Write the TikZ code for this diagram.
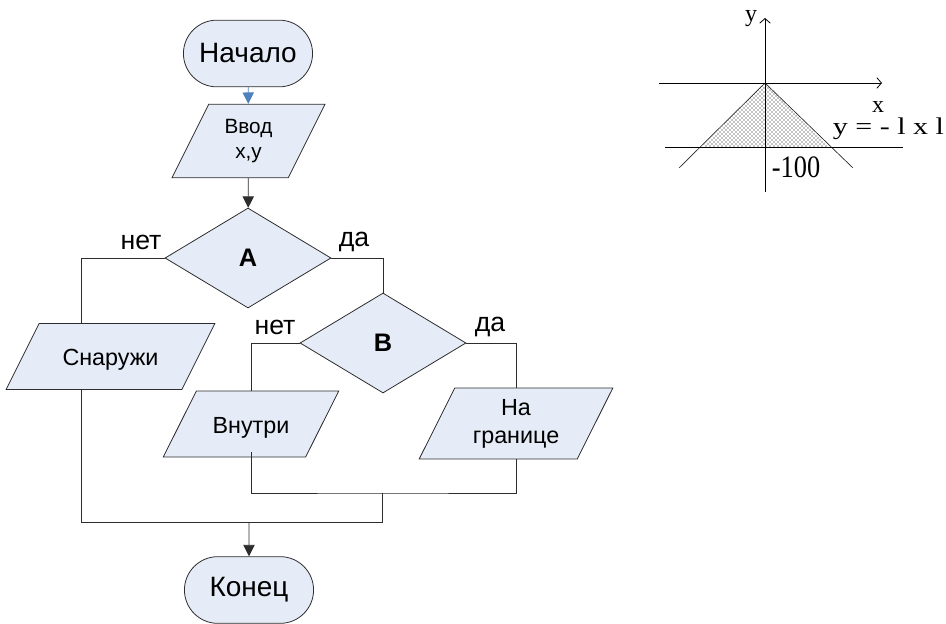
\documentclass[tikz,border=0pt]{standalone}
\usepackage{fontspec}
\setmainfont{Liberation Sans}
\newfontfamily\graphfont{Liberation Serif}
\usetikzlibrary{shapes.geometric,shapes.misc,arrows.meta,patterns}
\definecolor{boxfill}{RGB}{229,236,247}
\definecolor{arrowblue}{RGB}{79,129,189}
\definecolor{edgegray}{RGB}{45,45,45}
\tikzset{
term/.style={rounded rectangle, draw=edgegray, fill=boxfill, line width=0.6pt, minimum width=103.5pt, minimum height=50pt, font=\fontsize{21}{24}\selectfont},
io/.style={trapezium, trapezium left angle=63.4, trapezium right angle=116.6, draw=edgegray, fill=boxfill, line width=0.6pt, minimum height=49.5pt, align=center, inner sep=1pt},
oneline/.style={text height=30.5pt, text depth=17pt},
cond/.style={diamond, draw=edgegray, fill=boxfill, line width=0.6pt, minimum width=124.5pt, minimum height=75pt, inner sep=0pt, font=\fontsize{19}{21}\selectfont\bfseries},
answer/.style={font=\fontsize{20}{22}\selectfont},
line/.style={draw=edgegray, line width=0.6pt},
arr/.style={line, -{Triangle[length=8.5pt,width=8.5pt]}},
axis/.style={line width=0.6pt, -{Straight Barb[length=3.5pt,width=8pt]}},
graphtext/.style={font=\graphfont\fontsize{18}{20}\selectfont, inner sep=0pt},
}
\begin{document}
\begin{tikzpicture}[x=0.75pt,y=0.75pt,yscale=-1,xscale=1]
\useasboundingbox (0,0) rectangle (946,624);
%Terminals
\draw (248,53.5) node [term] (start) {Начало};
\draw (249,590) node [term] (finish) {Конец};
%Input
\draw (248.5,141) node [io, minimum width=115pt, font=\fontsize{15.5}{19}\selectfont] (input) {Ввод\\x,y};
%Conditions
\draw (248,258) node [cond] (condA) {A};
\draw (383,343) node [cond] (condB) {B};
%Outputs
\draw (110.5,356.5) node [io, oneline, text width=105pt, font=\fontsize{17.5}{20}\selectfont] (outside) {Снаружи};
\draw (251,424) node [io, oneline, text width=80pt, font=\fontsize{17.5}{20}\selectfont] (inside) {Внутри};
\draw (516,423.5) node [io, minimum width=145.5pt, font=\fontsize{17.5}{21}\selectfont] (border) {На\\границе};
%Answers
\draw (141,242) node [answer] (noA) {нет};
\draw (354,242) node [answer] (yesA) {да};
\draw (275,327) node [answer] (noB) {нет};
\draw (490,327) node [answer] (yesB) {да};
%Merge points
\coordinate (mergeB) at (382,493);
\coordinate (mergeA) at (382,522);
%Connectors
\draw [arr, draw=arrowblue] (start) -- (input);
\draw [arr] (input) -- (condA);
\draw [line] (condA.west) -| ([xshift=-22pt]outside.north);
\draw [line] (condA.east) -| (condB.north);
\draw [line] (condB.west) -| (inside.north);
\draw [line] (condB.east) -| (border.north);
\draw [line] ([yshift=-4pt]inside.south) |- (mergeB) -| (border.south);
\draw [line] ([xshift=-22pt]outside.south) |- (mergeA) -- (mergeB);
\draw [arr] (mergeA -| finish.north) -- (finish);
%Graph
\fill [pattern=crosshatch dots, pattern color=black] (765,83) -- (702,147) -- (830,147) -- cycle;
\draw [line width=0.5pt, black!85] (679,168) -- (765,83) -- (853,168);
\draw [line width=0.6pt] (665,147) -- (903,147);
\draw [axis] (659,83) -- (882,83);
\draw [axis] (765,192) -- (765,18);
\draw (751,19) node [graphtext] {y};
\draw (878,107) node [graphtext] {x};
\draw (888.5,128.5) node [graphtext] {\scalebox{1.25}[1]{y = - l x l}};
\draw (796,167.5) node [graphtext] {\scalebox{1.1}[1.3]{-100}};
\end{tikzpicture}
\end{document}
